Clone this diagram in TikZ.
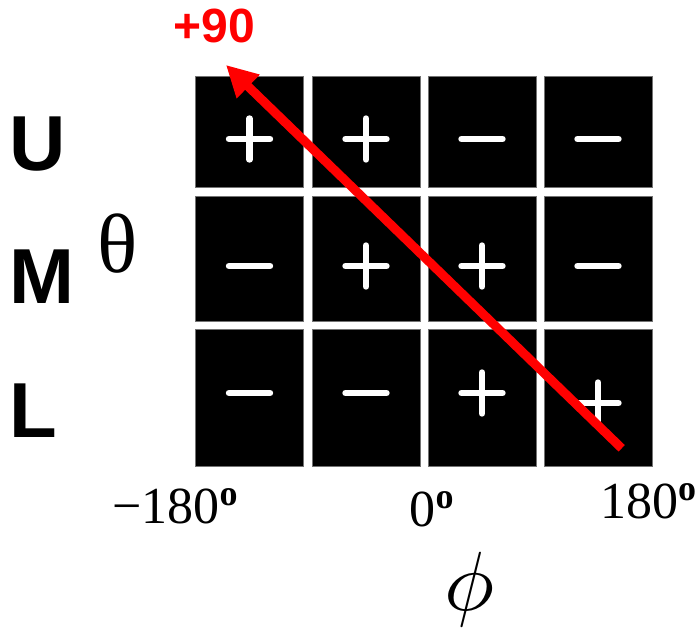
\documentclass[tikz,border=0pt]{standalone}
\usepackage{fontspec}
\setmainfont{Liberation Serif}
\setsansfont{Liberation Sans}
\usetikzlibrary{arrows.meta}
\definecolor{arrowred}{RGB}{255,0,0}
\newcommand{\dego}{\raisebox{18pt}{\fontsize{36}{36}\selectfont\bfseries o}}

\begin{document}
\begin{tikzpicture}[x=1pt, y=-1pt,
    cell/.style={rectangle, draw=black!55, line width=0.6pt, fill=black,
        inner sep=0pt, minimum width=108pt},
    sign/.style={white, line width=6.4pt, line cap=round},
    pluspic/.pic={\draw[sign] (-20.5,0) -- (20.5,0) (0,-20.5) -- (0,20.5);},
    minuspic/.pic={\draw[sign] (-20.5,0) -- (20.5,0);},
    rowlbl/.style={font=\fontsize{78}{78}\selectfont\sffamily\bfseries,
        anchor=base west, inner sep=0pt},
    ticklbl/.style={font=\fontsize{52}{52}\selectfont, anchor=base, inner sep=0pt},
    arr/.style={-{Triangle[length=31pt, width=31pt]}, line width=9pt, arrowred}
]
    \useasboundingbox (0,0) rectangle (696,627);

    \node[cell, minimum height=111pt] (u1) at (249.25,131.5) {};
    \node[cell, minimum height=111pt] (u2) at (366,131.5) {};
    \node[cell, minimum height=111pt] (u3) at (482,131.5) {};
    \node[cell, minimum height=111pt] (u4) at (598,131.5) {};

    \node[cell, minimum height=125pt] (m1) at (249.25,258.5) {};
    \node[cell, minimum height=125pt] (m2) at (366,258.5) {};
    \node[cell, minimum height=125pt] (m3) at (482,258.5) {};
    \node[cell, minimum height=125pt] (m4) at (598,258.5) {};

    \node[cell, minimum height=137pt] (l1) at (249.25,397.5) {};
    \node[cell, minimum height=137pt] (l2) at (366,397.5) {};
    \node[cell, minimum height=137pt] (l3) at (482,397.5) {};
    \node[cell, minimum height=137pt] (l4) at (598,397.5) {};

    \pic at (249.5,139) {pluspic};
    \pic at (366,139) {pluspic};
    \pic at (482,139) {minuspic};
    \pic at (598,139) {minuspic};

    \pic at (249.5,266) {minuspic};
    \pic at (366,266) {pluspic};
    \pic at (482,266) {pluspic};
    \pic at (598,266) {minuspic};

    \pic at (249.5,393) {minuspic};
    \pic at (366,393) {minuspic};
    \pic at (482,393) {pluspic};
    \pic at (598,403) {pluspic};

    \node[rowlbl] (lblU) at (9,170) {U};
    \node[rowlbl] (lblM) at (9,303) {M};
    \node[rowlbl] (lblL) at (9,437.5) {L};
    \node[font=\fontsize{84}{84}\selectfont, anchor=base, inner sep=0pt] (theta) at (117.5,272) {θ};

    \node[ticklbl] (left) at (175,523) {−180\dego};
    \node[ticklbl] (zero) at (431.5,526) {0\dego};
    \node[ticklbl] (right) at (648,518) {180\dego};
    \node[scale=8.4, inner sep=0pt] (phi) at (470,589) {$\phi$};

    \node[font=\fontsize{48}{48}\selectfont\sffamily\bfseries, text=arrowred,
        anchor=base, inner sep=0pt] (ninety) at (214.5,42.5) {+90};
    \coordinate (tail) at (621.7,448.3);
    \coordinate (tip) at (226,65);
    \draw[arr] (tail) -- (tip);
\end{tikzpicture}
\end{document}
